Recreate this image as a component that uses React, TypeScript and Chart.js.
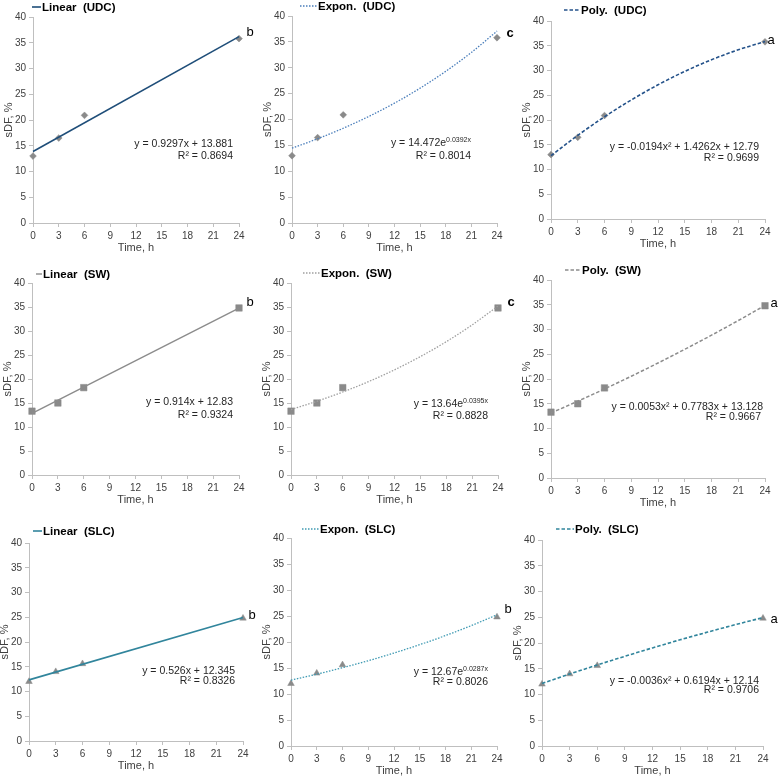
import React, { useEffect, useRef } from "react";
import { Chart, registerables } from "chart.js";
Chart.register(...registerables);

// ---------- data ----------
const TIMES = [0, 3, 6, 24];
const UDC = [13.0, 16.5, 20.9, 35.8];
const SW = [13.3, 15.0, 18.2, 34.8];
const SLC = [12.0, 14.0, 15.6, 24.8];

const LIN_X = [0, 24];
const FIT_X = [0, 3, 6, 9, 12, 15, 18, 21, 24];

const UDC_LIN = [13.88, 36.19];
const UDC_EXP = [14.47, 16.28, 18.31, 20.6, 23.16, 26.06, 29.31, 32.96, 37.08];
const UDC_POLY = [12.79, 16.89, 20.65, 24.05, 27.11, 29.82, 32.18, 34.18, 35.84];
const SW_LIN = [12.83, 34.77];
const SW_EXP = [13.64, 15.36, 17.29, 19.46, 21.91, 24.67, 27.77, 31.27, 35.2];
const SW_POLY = [13.13, 15.51, 17.99, 20.56, 23.23, 26.0, 28.85, 31.81, 34.86];
const SLC_LIN = [12.35, 24.97];
const SLC_EXP = [12.67, 13.81, 15.05, 16.4, 17.88, 19.49, 21.24, 23.15, 25.23];
const SLC_POLY = [12.14, 13.97, 15.73, 17.42, 19.05, 20.62, 22.12, 23.56, 24.93];

const X_MIN = 0, X_MAX = 24, X_STEP = 3;
const Y_MIN = 0, Y_MAX = 40, Y_STEP = 5;

const LEGEND_LABELS = [
  "Linear  (UDC)", "Expon.  (UDC)", "Poly.  (UDC)",
  "Linear  (SW)", "Expon.  (SW)", "Poly.  (SW)",
  "Linear  (SLC)", "Expon.  (SLC)", "Poly.  (SLC)",
];
const EQ_MAIN = [
  "y = 0.9297x + 13.881", "y = 14.472e", "y = -0.0194x² + 1.4262x + 12.79",
  "y = 0.914x + 12.83", "y = 13.64e", "y = 0.0053x² + 0.7783x + 13.128",
  "y = 0.526x + 12.345", "y = 12.67e", "y = -0.0036x² + 0.6194x + 12.14",
];
const EQ_SUP = ["", "0.0392x", "", "", "0.0395x", "", "", "0.0287x", ""];
const R2_TEXT = [
  "R² = 0.8694", "R² = 0.8014", "R² = 0.9699",
  "R² = 0.9324", "R² = 0.8828", "R² = 0.9667",
  "R² = 0.8326", "R² = 0.8026", "R² = 0.9706",
];
const LETTERS = ["b", "c", "a", "b", "c", "a", "b", "b", "a"];

// ---------- styling / layout ----------
const PAGE_W = 778, PAGE_H = 776;
const YW = 30, XH = 20;
const AXIS = "#bfbfbf";
const TXT = "#404040";
const MARK = "#8a8a8a";
const FONT = "'Liberation Sans', Arial, sans-serif";

type Panel = {
  x0: number; x1: number; top: number; bottom: number;
  lx1: number; lx2: number; ly: number;
  color: string; dash: number[]; width: number;
  fitX: number[]; fitY: number[]; ptsY: number[];
  marker: string; mr: number;
  eqR: number; eqY: number; r2R: number; r2Y: number;
  letX: number; letY: number; letBold: boolean;
};

const DOT = [1.5, 1.5];
const DASH = [3.5, 2];

const PANELS: Panel[] = [
  { x0: 33, x1: 239, top: 17, bottom: 223, lx1: 32, lx2: 41, ly: 7, color: "#1f4e79", dash: [], width: 1.6,
    fitX: LIN_X, fitY: UDC_LIN, ptsY: UDC, marker: "rectRot", mr: 3.4,
    eqR: 233, eqY: 144, r2R: 233, r2Y: 156, letX: 250, letY: 32, letBold: false },
  { x0: 292, x1: 497, top: 16, bottom: 223, lx1: 300, lx2: 317, ly: 6, color: "#4a7ebb", dash: DOT, width: 1.3,
    fitX: FIT_X, fitY: UDC_EXP, ptsY: UDC, marker: "rectRot", mr: 3.4,
    eqR: 471, eqY: 143, r2R: 471, r2Y: 156, letX: 510, letY: 33, letBold: true },
  { x0: 551, x1: 765, top: 21, bottom: 219, lx1: 564, lx2: 580, ly: 10, color: "#24528a", dash: DASH, width: 1.6,
    fitX: FIT_X, fitY: UDC_POLY, ptsY: UDC, marker: "rectRot", mr: 3.4,
    eqR: 759, eqY: 147, r2R: 759, r2Y: 158, letX: 771, letY: 40, letBold: false },
  { x0: 32, x1: 239, top: 283, bottom: 475, lx1: 36, lx2: 42, ly: 274, color: "#8c8c8c", dash: [], width: 1.4,
    fitX: LIN_X, fitY: SW_LIN, ptsY: SW, marker: "rect", mr: 4.6,
    eqR: 233, eqY: 402, r2R: 233, r2Y: 415, letX: 250, letY: 302, letBold: false },
  { x0: 291, x1: 498, top: 283, bottom: 475, lx1: 303, lx2: 320, ly: 273, color: "#a0a0a0", dash: DOT, width: 1.3,
    fitX: FIT_X, fitY: SW_EXP, ptsY: SW, marker: "rect", mr: 4.6,
    eqR: 488, eqY: 404, r2R: 488, r2Y: 416, letX: 511, letY: 302, letBold: true },
  { x0: 551, x1: 765, top: 280, bottom: 478, lx1: 565, lx2: 581, ly: 270, color: "#8c8c8c", dash: DASH, width: 1.5,
    fitX: FIT_X, fitY: SW_POLY, ptsY: SW, marker: "rect", mr: 4.6,
    eqR: 763, eqY: 407, r2R: 761, r2Y: 417, letX: 774, letY: 303, letBold: false },
  { x0: 29, x1: 243, top: 543, bottom: 741, lx1: 33, lx2: 42, ly: 531, color: "#31859c", dash: [], width: 1.6,
    fitX: LIN_X, fitY: SLC_LIN, ptsY: SLC, marker: "triangle", mr: 3.8,
    eqR: 235, eqY: 671, r2R: 235, r2Y: 681, letX: 252, letY: 615, letBold: false },
  { x0: 291, x1: 497, top: 538, bottom: 746, lx1: 302, lx2: 319, ly: 529, color: "#3f9ab3", dash: DOT, width: 1.3,
    fitX: FIT_X, fitY: SLC_EXP, ptsY: SLC, marker: "triangle", mr: 3.8,
    eqR: 488, eqY: 672, r2R: 488, r2Y: 682, letX: 508, letY: 609, letBold: false },
  { x0: 542, x1: 763, top: 540, bottom: 746, lx1: 556, lx2: 574, ly: 529, color: "#31859c", dash: DASH, width: 1.6,
    fitX: FIT_X, fitY: SLC_POLY, ptsY: SLC, marker: "triangle", mr: 3.8,
    eqR: 759, eqY: 681, r2R: 759, r2Y: 690, letX: 774, letY: 619, letBold: false },
];

function ChartPanel({ p, i }: { p: Panel; i: number }) {
  const ref = useRef<HTMLCanvasElement>(null);
  useEffect(() => {
    const deco = {
      id: "deco" + i,
      afterDraw(chart: any) {
        const ctx = chart.ctx as CanvasRenderingContext2D;
        const a = chart.chartArea;
        ctx.save();
        // y title
        ctx.fillStyle = TXT;
        ctx.font = `11px ${FONT}`;
        ctx.textAlign = "center";
        ctx.textBaseline = "middle";
        ctx.save();
        ctx.translate(a.left - 24, (a.top + a.bottom) / 2);
        ctx.rotate(-Math.PI / 2);
        ctx.fillText("sDF, %", 0, 0);
        ctx.restore();
        // x title
        ctx.fillText("Time, h", (a.left + a.right) / 2, a.bottom + 25);
        // legend
        ctx.strokeStyle = p.color;
        ctx.lineWidth = p.width;
        ctx.setLineDash(p.dash);
        ctx.beginPath();
        ctx.moveTo(p.lx1, p.ly);
        ctx.lineTo(p.lx2, p.ly);
        ctx.stroke();
        ctx.setLineDash([]);
        ctx.fillStyle = "#000";
        ctx.font = `bold 11.5px ${FONT}`;
        ctx.textAlign = "left";
        ctx.fillText(LEGEND_LABELS[i], p.lx2 + 1, p.ly + 0.5);
        // equation
        ctx.fillStyle = "#262626";
        ctx.font = `10.5px ${FONT}`;
        const main = EQ_MAIN[i];
        const sup = EQ_SUP[i];
        const wMain = ctx.measureText(main).width;
        ctx.font = `7px ${FONT}`;
        const wSup = sup ? ctx.measureText(sup).width : 0;
        const startX = p.eqR - wMain - wSup;
        ctx.font = `10.5px ${FONT}`;
        ctx.textAlign = "left";
        ctx.fillText(main, startX, p.eqY);
        if (sup) {
          ctx.font = `7px ${FONT}`;
          ctx.fillText(sup, startX + wMain, p.eqY - 3);
        }
        ctx.font = `10.5px ${FONT}`;
        ctx.textAlign = "right";
        ctx.fillText(R2_TEXT[i], p.r2R, p.r2Y);
        // letter
        ctx.fillStyle = "#000";
        ctx.font = `${p.letBold ? "bold " : ""}13px ${FONT}`;
        ctx.textAlign = "center";
        ctx.fillText(LETTERS[i], p.letX, p.letY);
        ctx.restore();
      },
    };

    const chart = new Chart(ref.current as HTMLCanvasElement, {
      type: "scatter",
      data: {
        datasets: [
          {
            data: p.fitX.map((x, k) => ({ x, y: p.fitY[k] })),
            showLine: true,
            borderColor: p.color,
            borderWidth: p.width,
            borderDash: p.dash,
            pointRadius: 0,
            cubicInterpolationMode: "monotone",
            fill: false,
            clip: false,
          } as any,
          {
            data: TIMES.map((x, k) => ({ x, y: p.ptsY[k] })),
            showLine: false,
            pointStyle: p.marker,
            pointRadius: p.mr,
            backgroundColor: MARK,
            borderColor: MARK,
            borderWidth: 0.5,
            clip: false,
          } as any,
        ],
      },
      options: {
        responsive: false,
        animation: false,
        events: [],
        layout: {
          padding: {
            left: p.x0 - YW,
            top: p.top,
            right: PAGE_W - p.x1,
            bottom: PAGE_H - p.bottom - XH,
          },
        },
        plugins: { legend: { display: false }, tooltip: { enabled: false }, title: { display: false } },
        scales: {
          x: {
            type: "linear",
            min: X_MIN,
            max: X_MAX,
            ticks: { stepSize: X_STEP, color: TXT, font: { family: FONT, size: 10 }, padding: 3, maxRotation: 0 },
            grid: { drawOnChartArea: false, drawTicks: true, tickLength: 4, color: AXIS },
            border: { color: AXIS, width: 1 },
            afterFit: (s: any) => { s.height = XH; },
          },
          y: {
            type: "linear",
            min: Y_MIN,
            max: Y_MAX,
            ticks: { stepSize: Y_STEP, color: TXT, font: { family: FONT, size: 10 }, padding: 3 },
            grid: { drawOnChartArea: false, drawTicks: true, tickLength: 4, color: AXIS },
            border: { color: AXIS, width: 1 },
            afterFit: (s: any) => { s.width = YW; },
          },
        },
      } as any,
      plugins: [deco],
    });
    return () => chart.destroy();
  }, []);
  return (
    <canvas
      ref={ref}
      width={PAGE_W}
      height={PAGE_H}
      style={{ position: "absolute", left: 0, top: 0, width: PAGE_W, height: PAGE_H }}
    />
  );
}

export default function App() {
  useEffect(() => {
    document.body.style.margin = "0";
    document.body.style.background = "#ffffff";
  }, []);
  return (
    <div style={{ position: "absolute", left: 0, top: 0, width: PAGE_W, height: PAGE_H, background: "#fff", overflow: "hidden" }}>
      {PANELS.map((p, i) => (
        <ChartPanel key={i} p={p} i={i} />
      ))}
    </div>
  );
}
